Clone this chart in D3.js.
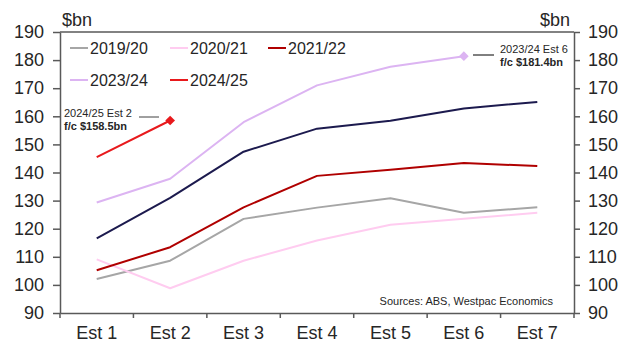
<!DOCTYPE html>
<html>
<head>
<meta charset="utf-8">
<script src="https://cdn.jsdelivr.net/npm/d3@7"></script>
<style>
  body { margin: 0; background: #fff; }
  text { font-family: "Liberation Sans", Arial, sans-serif; fill: #262626; }
</style>
</head>
<body>
<div id="chart"></div>
<script>
// data
var categories = ["Est 1", "Est 2", "Est 3", "Est 4", "Est 5", "Est 6", "Est 7"];
var yTicks = [90, 100, 110, 120, 130, 140, 150, 160, 170, 180, 190];

var s1920 = [102.1, 108.6, 123.5, 127.5, 130.8, 125.7, 127.6];
var s2021 = [109.1, 98.8, 108.6, 115.8, 121.4, 123.5, 125.7];
var s2122 = [105.2, 113.4, 127.6, 138.8, 141.0, 143.4, 142.3];
var s2223 = [116.6, 131.0, 147.4, 155.6, 158.4, 162.8, 165.1];
var s2324 = [129.3, 137.8, 157.9, 171.0, 177.6, 181.4];
var s2425 = [145.5, 158.5];

var series = [
  {name: "2019/20", values: s1920, color: "#a6a6a6", legend: true},
  {name: "2020/21", values: s2021, color: "#ffccf0", legend: true},
  {name: "2021/22", values: s2122, color: "#b00000", legend: true},
  {name: "2022/23", values: s2223, color: "#1c1a4e", legend: false},
  {name: "2023/24", values: s2324, color: "#dcb4f2", legend: true},
  {name: "2024/25", values: s2425, color: "#e8191c", legend: true}
];

var width = 632, height = 344;
var margin = {top: 32, right: 58, bottom: 31, left: 60};

var svg = d3.select("#chart")
    .append("svg")
    .attr("width", width)
    .attr("height", height);

var x = d3.scaleBand()
    .domain(categories)
    .range([margin.left, width - margin.right]);

var y = d3.scaleLinear()
    .domain([90, 190])
    .range([height - margin.bottom, margin.top]);

var axisColor = "#595959";

// axes
var yLeft = svg.append("g")
    .attr("transform", `translate(${margin.left},0)`)
    .call(d3.axisLeft(y).tickValues(yTicks).tickSize(7).tickPadding(9).tickSizeOuter(0));
var yRight = svg.append("g")
    .attr("transform", `translate(${width - margin.right},0)`)
    .call(d3.axisRight(y).tickValues(yTicks).tickSize(6).tickPadding(8).tickSizeOuter(0));
var xAxis = svg.append("g")
    .attr("transform", `translate(0,${height - margin.bottom})`)
    .call(d3.axisBottom(x).tickSize(0).tickPadding(13));

[yLeft, yRight, xAxis].forEach(function(g) {
  g.selectAll("path, line").attr("stroke", axisColor).attr("stroke-width", 1.5);
  g.selectAll("text").style("font-size", "18px").attr("fill", "#262626")
    .style("font-family", '"Liberation Sans", Arial, sans-serif');
});

// x ticks at band edges
var edges = categories.map(d => x(d)).concat([x.range()[1]]);
svg.append("g").selectAll("line")
    .data(edges)
    .join("line")
    .attr("x1", d => d).attr("x2", d => d)
    .attr("y1", height - margin.bottom).attr("y2", height - margin.bottom + 5)
    .attr("stroke", axisColor).attr("stroke-width", 1.5);

// top frame
svg.append("line")
    .attr("x1", margin.left).attr("x2", width - margin.right)
    .attr("y1", margin.top).attr("y2", margin.top)
    .attr("stroke", axisColor).attr("stroke-width", 1.5);

// unit labels
svg.append("text").attr("x", margin.left + 2).attr("y", 26)
    .style("font-size", "18px").text("$bn");
svg.append("text").attr("x", width - margin.right - 4).attr("y", 26)
    .style("font-size", "18px").attr("text-anchor", "end").text("$bn");

// lines
var line = d3.line()
    .x((d, i) => x(categories[i]) + x.bandwidth() / 2)
    .y(d => y(d));

svg.append("g").selectAll("path")
    .data(series)
    .join("path")
    .attr("fill", "none")
    .attr("stroke", d => d.color)
    .attr("stroke-width", 2)
    .attr("stroke-linejoin", "round")
    .attr("d", d => line(d.values));

// forecast markers
var diamond = d3.symbol().type(d3.symbolDiamond2).size(60);
[[s2324, "#dcb4f2"], [s2425, "#e8191c"]].forEach(function(p) {
  var vals = p[0], i = vals.length - 1;
  svg.append("path")
      .attr("d", diamond)
      .attr("fill", p[1])
      .attr("transform", `translate(${x(categories[i]) + x.bandwidth() / 2},${y(vals[i])})`);
});

// annotations
svg.append("line").attr("x1", 473).attr("x2", 494).attr("y1", 55).attr("y2", 55)
    .attr("stroke", "#000").attr("stroke-width", 1);
svg.append("text").attr("x", 500).attr("y", 53).style("font-size", "11px").text("2023/24 Est 6");
svg.append("text").attr("x", 500).attr("y", 66).style("font-size", "11px")
    .style("font-weight", "bold").text("f/c $181.4bn");

svg.append("line").attr("x1", 139).attr("x2", 159).attr("y1", 117).attr("y2", 117)
    .attr("stroke", "#404040").attr("stroke-width", 1);
svg.append("text").attr("x", 64).attr("y", 117).style("font-size", "11px").text("2024/25 Est 2");
svg.append("text").attr("x", 64).attr("y", 130).style("font-size", "11px")
    .style("font-weight", "bold").text("f/c $158.5bn");

// legend
var legendItems = series.filter(d => d.legend);
var legendPos = [[70, 48], [170, 48], [268, 48], [70, 80], [170, 80]];
var legend = svg.append("g").selectAll("g")
    .data(legendItems)
    .join("g")
    .attr("transform", (d, i) => `translate(${legendPos[i][0]},${legendPos[i][1]})`);
legend.append("line")
    .attr("x1", 0).attr("x2", 18)
    .attr("stroke", d => d.color).attr("stroke-width", 2);
legend.append("text")
    .attr("x", 20).attr("dy", "0.35em")
    .style("font-size", "16px")
    .text(d => d.name);

// source
svg.append("text").attr("x", 553).attr("y", 305)
    .attr("text-anchor", "end").style("font-size", "11px")
    .text("Sources: ABS, Westpac Economics");
</script>
</body>
</html>
